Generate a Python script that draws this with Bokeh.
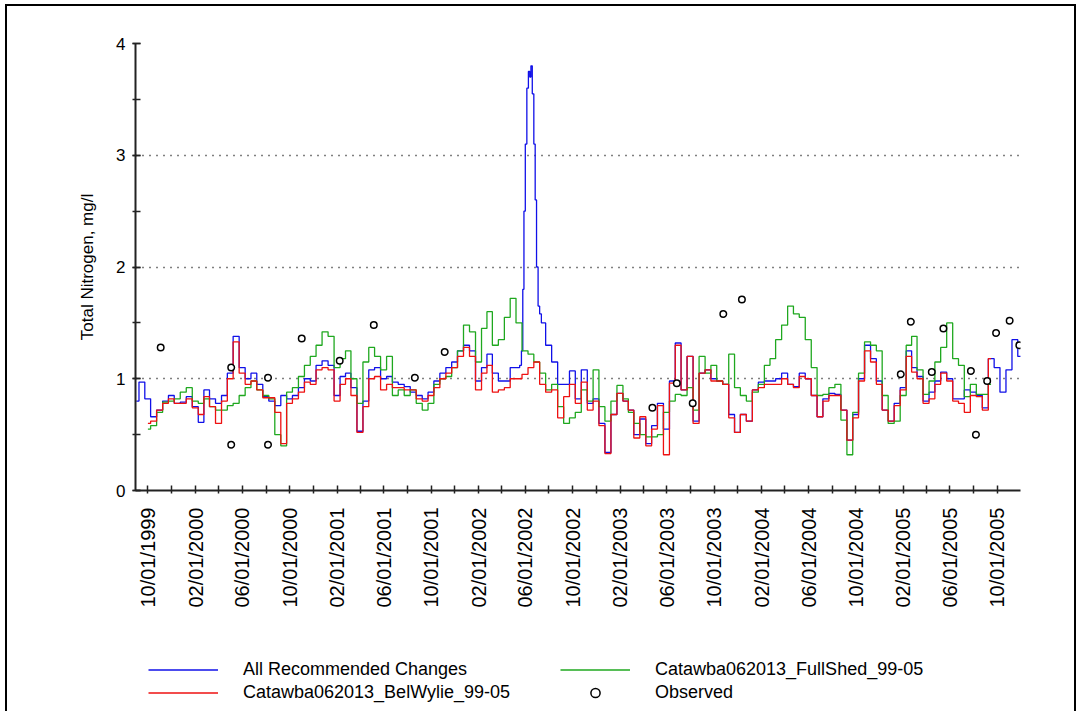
import numpy as np
import pandas as pd
from bokeh.plotting import figure
from bokeh.layouts import column
from bokeh.models import (Range1d, FixedTicker, SingleIntervalTicker, DatetimeTickFormatter,
                          Legend, LegendItem, ColumnDataSource)
from bokeh.embed import file_html
from bokeh.resources import INLINE

# Semi-monthly sample dates (1st and 15th), Sep 1999 - Dec 2005
dates = pd.date_range("1999-09-01", "2005-12-01", freq="SMS")

nan = np.nan
all_changes = [
    0.80, 0.97, 0.82, 0.66, 0.72, 0.80, 0.85, 0.78, 0.79, 0.84,
    0.75, 0.61, 0.90, 0.82, 0.78, 0.85, 1.05, 1.38, 1.10, 1.00,
    1.05, 0.95, 0.84, 0.80, 0.76, 0.85, 0.82, 0.85, 0.92, 1.00,
    0.98, 1.12, 1.16, 1.12, 0.85, 1.02, 1.05, 0.92, 0.53, 0.80,
    1.08, 1.10, 1.00, 1.02, 0.97, 0.95, 0.93, 0.88, 0.85, 0.82,
    0.88, 0.98, 1.05, 1.10, 1.15, 1.25, 1.30, 1.25, 0.98, 1.10,
    1.22, 1.05, 0.98, 0.98, 1.10, 1.10, nan, nan, nan, 1.50,
    1.30, 1.15, 0.95, 0.95, 1.07, 0.82, 1.08, 0.78, 0.82, 0.60,
    0.34, 0.68, 0.87, 0.80, 0.72, 0.50, 0.64, 0.42, 0.58, 0.78,
    0.55, 0.98, 1.32, 0.90, 1.20, 0.62, 1.05, 1.08, 1.00, 0.98,
    0.95, 0.68, 0.52, 0.68, 0.62, 0.90, 0.97, 0.98, 0.98, 1.00,
    1.05, 0.95, 0.93, 1.05, 1.00, 0.85, 0.66, 0.82, 0.87, 0.86,
    0.72, 0.45, 0.68, 1.00, 1.30, 1.18, 0.98, 0.72, 0.62, 0.78,
    0.92, 1.25, 1.10, 1.02, 0.80, 0.88, 0.98, 1.06, 1.00, 0.82,
    0.82, 0.90, 0.88, 0.85, 0.74, 1.18, 1.10, 0.88, 1.08, 1.35,
    1.20,
]

# June 2002 peak of the "All Recommended Changes" run, at finer spacing
peak_dates = ["2002-05-20", "2002-05-24", "2002-05-27", "2002-05-30", "2002-06-03",
              "2002-06-07", "2002-06-11", "2002-06-14", "2002-06-17", "2002-06-21",
              "2002-06-25", "2002-06-28", "2002-07-02", "2002-07-06", "2002-07-10"]
peak_values = [1.12, 1.25, 1.80, 2.50, 3.10, 3.60, 3.75, 3.70, 3.80, 3.55,
               3.10, 2.60, 2.00, 1.65, 1.58]

bel_wylie = [
    nan, nan, 0.60, 0.62, 0.72, 0.78, 0.82, 0.78, 0.78, 0.82,
    0.74, 0.68, 0.84, 0.75, 0.60, 0.80, 1.00, 1.33, 1.05, 0.95,
    0.98, 0.90, 0.83, 0.83, 0.70, 0.42, 0.78, 0.82, 0.88, 0.97,
    0.95, 1.08, 1.10, 1.08, 0.80, 0.95, 1.00, 0.85, 0.52, 0.75,
    1.00, 1.02, 0.90, 0.95, 0.92, 0.92, 0.90, 0.90, 0.82, 0.80,
    0.85, 0.92, 1.00, 1.05, 1.10, 1.20, 1.28, 1.20, 0.90, 1.05,
    1.12, 0.88, 0.90, 0.92, 1.00, 1.00, 1.04, 1.10, 1.15, 0.95,
    0.88, 0.90, 0.65, 0.84, 0.95, 0.78, 0.97, 0.72, 0.80, 0.58,
    0.33, 0.68, 0.87, 0.80, 0.72, 0.47, 0.66, 0.40, 0.55, 0.76,
    0.32, 0.96, 1.30, 0.90, 1.20, 0.60, 1.05, 1.08, 0.98, 0.98,
    0.95, 0.65, 0.52, 0.68, 0.62, 0.90, 0.92, 0.95, 0.95, 0.95,
    1.00, 0.95, 0.92, 1.02, 1.00, 0.85, 0.66, 0.80, 0.85, 0.85,
    0.72, 0.45, 0.65, 0.98, 1.25, 1.15, 0.95, 0.72, 0.62, 0.76,
    0.90, 1.20, 1.06, 1.00, 0.78, 0.82, 0.95, 1.05, 0.98, 0.80,
    0.78, 0.70, 0.85, 0.84, 0.72, 1.18, nan, nan, nan, nan,
    nan,
]

full_shed = [
    nan, nan, 0.55, 0.58, 0.70, 0.79, 0.80, 0.82, 0.88, 0.92,
    0.80, 0.78, 0.82, 0.75, 0.72, 0.72, 0.76, 0.78, 0.85, 0.92,
    0.98, 0.90, 0.85, 0.82, 0.50, 0.40, 0.88, 0.92, 1.02, 1.12,
    1.20, 1.30, 1.42, 1.38, 1.10, 1.18, 1.25, 1.00, 0.78, 1.15,
    1.28, 1.20, 1.08, 1.20, 0.85, 0.90, 0.85, 0.90, 0.78, 0.72,
    0.78, 0.95, 1.00, 1.02, 1.10, 1.25, 1.48, 1.42, 1.15, 1.45,
    1.60, 1.30, 1.35, 1.55, 1.72, 1.50, 1.25, 1.22, 1.15, 1.05,
    0.90, 0.95, 0.75, 0.60, 0.65, 0.70, 0.90, 0.80, 1.08, 0.75,
    0.62, 0.80, 0.94, 0.82, 0.70, 0.60, 0.50, 0.48, 0.48, 0.50,
    0.70, 0.80, 0.86, 0.85, 0.92, 0.72, 1.20, 1.05, 1.12, 0.98,
    0.95, 1.22, 0.92, 0.85, 0.80, 0.88, 0.95, 1.12, 1.18, 1.35,
    1.48, 1.65, 1.58, 1.55, 1.35, 1.10, 0.85, 0.86, 0.92, 0.95,
    0.63, 0.32, 0.70, 1.05, 1.33, 1.30, 1.25, 0.85, 0.60, 0.62,
    0.85, 1.30, 1.38, 1.08, 0.86, 0.98, 1.15, 1.28, 1.50, 1.18,
    1.12, 0.84, 0.95, 0.86, 0.86, 0.95, nan, nan, nan, nan,
    nan,
]

obs_dates = ["1999-11-03", "2000-05-03", "2000-05-03", "2000-08-06", "2000-08-06",
             "2000-11-01", "2001-02-07", "2001-05-06", "2001-08-20", "2001-11-05",
             "2003-04-25", "2003-06-27", "2003-08-07", "2003-10-25", "2003-12-12",
             "2005-01-25", "2005-02-20", "2005-04-15", "2005-05-15", "2005-07-25",
             "2005-08-07", "2005-09-05", "2005-09-28", "2005-11-02", "2005-11-27"]
obs_values = [1.28, 1.10, 0.41, 1.01, 0.41,
              1.36, 1.16, 1.48, 1.01, 1.24,
              0.74, 0.96, 0.78, 1.58, 1.71,
              1.04, 1.51, 1.06, 1.45, 1.07,
              0.50, 0.98, 1.41, 1.52, 1.30]

series_names = ["All Recommended Changes", "Catawba062013_BelWylie_99-05",
                "Catawba062013_FullShed_99-05", "Observed"]
series_colors = ["#1010e8", "#ee1111", "#1fa81f", "black"]

tick_labels_every = 4   # months between labelled ticks
tick_every = 2          # months between tick marks

FONT = "Liberation Sans"

def series(xs, ys):
    return pd.DataFrame({"x": pd.to_datetime(xs), "y": ys}).dropna()

blue_df = pd.concat([series(dates, all_changes),
                     series(peak_dates, peak_values)]).sort_values("x")
red_df = series(dates, bel_wylie)
green_df = series(dates, full_shed)
obs_df = series(obs_dates, obs_values)

line_style = dict(mode="center", line_width=1.3)
obs_style = dict(marker="circle", size=6.5, fill_color="white", line_width=1.5)

# ---- main time-series panel ----
p = figure(x_axis_type="datetime", output_backend="svg", toolbar_location=None,
           width=1067, height=610,
           min_border_left=128, min_border_top=37, min_border_right=54, min_border_bottom=126,
           x_range=Range1d(pd.Timestamp("1999-08-30"), pd.Timestamp("2005-11-30")),
           y_range=Range1d(0, 4))
p.outline_line_color = None
p.background_fill_color = "white"
p.border_fill_color = "white"

p.step(x="x", y="y", source=ColumnDataSource(blue_df), line_color=series_colors[0], **line_style)
p.step(x="x", y="y", source=ColumnDataSource(green_df), line_color=series_colors[2], **line_style)
p.step(x="x", y="y", source=ColumnDataSource(red_df), line_color=series_colors[1], **line_style)
p.scatter(x="x", y="y", source=ColumnDataSource(obs_df), line_color=series_colors[3], **obs_style)

# x axis: a tick every two months, a label every four
month_starts = pd.date_range("1999-10-01", "2005-11-01", freq="MS")
major = [d for d in month_starts if (d.month - 10) % tick_labels_every == 0]
minor = [d for d in month_starts if (d.month - 10) % tick_every == 0 and d not in major]
to_ms = lambda ds: [pd.Timestamp(d).value / 1e6 for d in ds]
p.xaxis.ticker = FixedTicker(ticks=to_ms(major), minor_ticks=to_ms(minor))
fmt = "%m/%d/%Y"
p.xaxis.formatter = DatetimeTickFormatter(days=fmt, months=fmt, years=fmt)
p.xaxis.major_label_orientation = np.pi / 2
p.xaxis.major_label_text_font = FONT
p.xaxis.major_label_text_font_size = "20px"
p.xaxis.major_label_text_color = "black"
p.xaxis.major_label_standoff = 14

p.yaxis.ticker = SingleIntervalTicker(interval=1, num_minor_ticks=2)
p.yaxis.major_label_text_font = FONT
p.yaxis.major_label_text_font_size = "17px"
p.yaxis.major_label_text_color = "black"
p.yaxis.major_label_standoff = 7
p.yaxis.axis_label = "Total Nitrogen, mg/l"
p.yaxis.axis_label_text_font = FONT
p.yaxis.axis_label_text_font_size = "17px"
p.yaxis.axis_label_text_font_style = "normal"
p.yaxis.axis_label_text_color = "black"
p.yaxis.axis_label_standoff = 16

for ax in (p.xaxis, p.yaxis):
    ax.axis_line_color = "#222222"
    ax.axis_line_width = 2
    ax.major_tick_line_color = "#222222"
    ax.minor_tick_line_color = "#222222"
    ax.major_tick_line_width = 1.5
    ax.minor_tick_line_width = 1.5
    ax.major_tick_in = 5
    ax.major_tick_out = 3
    ax.minor_tick_in = 5
    ax.minor_tick_out = 3

p.xgrid.grid_line_color = None
p.ygrid.ticker = FixedTicker(ticks=[1, 2, 3, 4])
p.ygrid.grid_line_color = "black"
p.ygrid.grid_line_dash = "1 6"
p.ygrid.grid_line_width = 1.5

# ---- legend strip: placeholder renderers (no visible data) carry the key styles ----
k = figure(output_backend="svg", toolbar_location=None, width=1067, height=100,
           x_axis_location=None, y_axis_location=None,
           x_range=Range1d(0, 1), y_range=Range1d(0, 1),
           min_border_left=0, min_border_right=0, min_border_top=0, min_border_bottom=0)
k.outline_line_color = None
k.grid.grid_line_color = None
placeholder = lambda: ColumnDataSource(dict(x=[nan], y=[nan]))
k_blue = k.step(x="x", y="y", source=placeholder(), line_color=series_colors[0], **line_style)
k_red = k.step(x="x", y="y", source=placeholder(), line_color=series_colors[1], **line_style)
k_green = k.step(x="x", y="y", source=placeholder(), line_color=series_colors[2], **line_style)
k_obs = k.scatter(x="x", y="y", source=placeholder(), line_color=series_colors[3], **obs_style)

legend = Legend(items=[LegendItem(label=n, renderers=[r])
                       for n, r in zip(series_names, [k_blue, k_red, k_green, k_obs])],
                ncols=2, orientation="vertical", location=(13, 12))
legend.label_text_font = FONT
legend.label_text_font_size = "18px"
legend.label_text_color = "black"
legend.glyph_width = 70
legend.glyph_height = 23
legend.label_height = 23
legend.label_width = 317
legend.label_standoff = 25
legend.spacing = 0
legend.padding = 5
legend.margin = 0
legend.border_line_color = None
legend.background_fill_alpha = 0
k.add_layout(legend)

layout = column(p, k, spacing=0, margin=(6, 0, 0, 7),
                styles={"outline": "2px solid black"})

open("out.html", "w").write(file_html(layout, INLINE))
